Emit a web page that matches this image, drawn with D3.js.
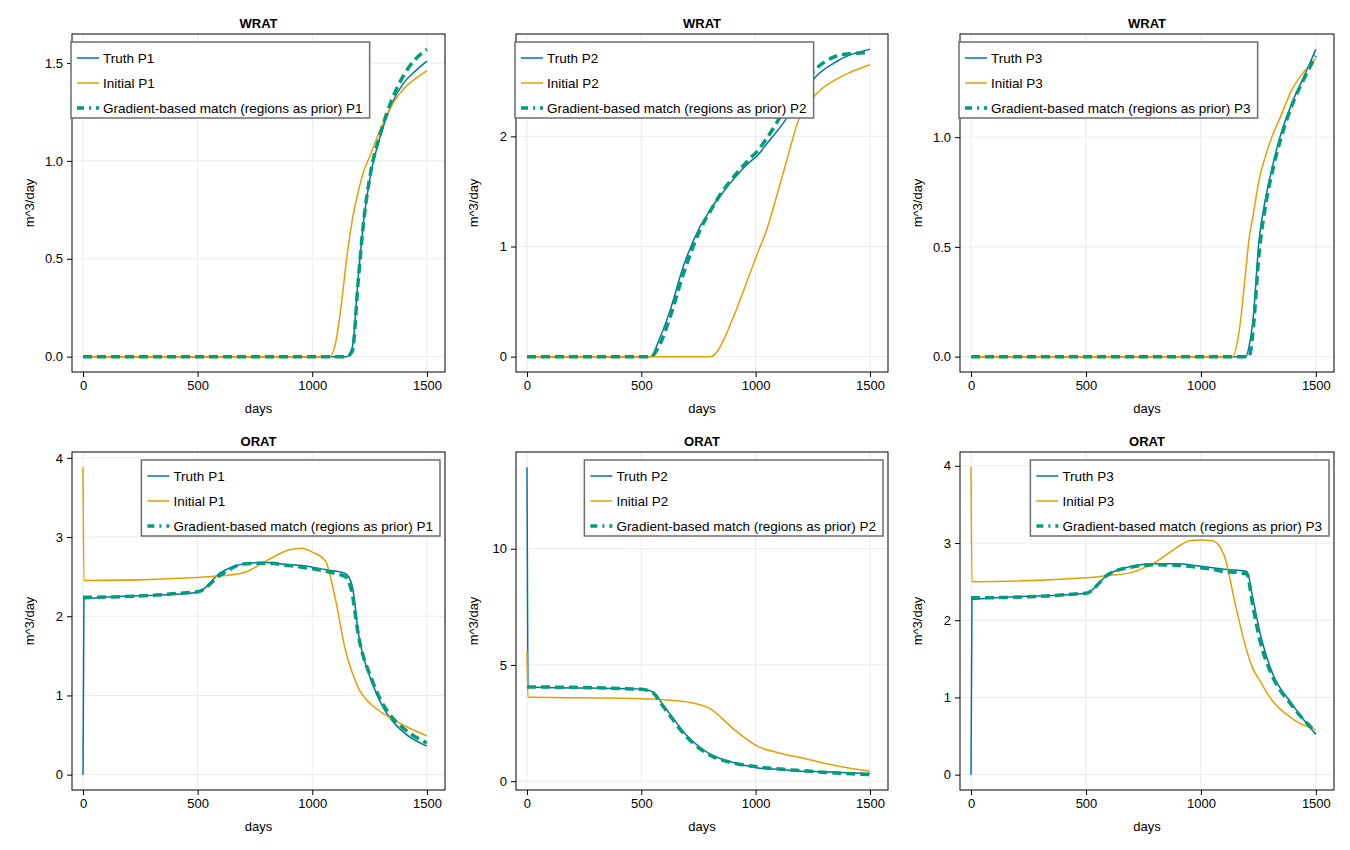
<!DOCTYPE html>
<html>
<head>
<meta charset="utf-8">
<script src="https://cdn.jsdelivr.net/npm/d3@7"></script>
<style>
  body { margin: 0; background: #fff; }
  text { font-family: "Liberation Sans", Arial, sans-serif; }
</style>
</head>
<body>
<svg id="chart" width="1350" height="850"></svg>
<script>
// ---- data ----
var wratP1Days    = [0, 1000, 1075, 1100, 1125, 1150, 1175, 1200, 1225, 1250, 1300, 1350, 1400, 1450, 1500];
var wratP1Truth   = [0, 0, 0, 0, 0, 0, 0.05, 0.40, 0.70, 0.90, 1.14, 1.30, 1.40, 1.46, 1.51];
var wratP1Initial = [0, 0, 0, 0.06, 0.25, 0.50, 0.70, 0.84, 0.95, 1.02, 1.17, 1.29, 1.37, 1.42, 1.46];
var wratP1Match   = [0, 0, 0, 0, 0, 0, 0.03, 0.38, 0.70, 0.91, 1.15, 1.32, 1.44, 1.52, 1.57];

var wratP2Days    = [0, 540, 583, 626, 684, 757, 801, 830, 845, 903, 976, 1005, 1048, 1121, 1194, 1267, 1354, 1413, 1500];
var wratP2Truth   = [0, 0, 0.18, 0.42, 0.82, 1.18, 1.33, 1.42, 1.46, 1.61, 1.77, 1.82, 1.93, 2.12, 2.35, 2.55, 2.68, 2.74, 2.79];
var wratP2Initial = [0, 0, 0, 0, 0, 0, 0, 0.04, 0.09, 0.36, 0.76, 0.92, 1.15, 1.67, 2.18, 2.39, 2.52, 2.58, 2.65];
var wratP2Match   = [0, 0, 0.12, 0.36, 0.75, 1.15, 1.32, 1.42, 1.47, 1.63, 1.80, 1.86, 1.98, 2.22, 2.45, 2.62, 2.73, 2.75, 2.76];

var wratP3Days    = [0, 1100, 1138, 1167, 1196, 1210, 1225, 1254, 1283, 1312, 1341, 1398, 1450, 1500];
var wratP3Truth   = [0, 0, 0, 0, 0, 0.05, 0.15, 0.54, 0.73, 0.87, 0.99, 1.16, 1.28, 1.40];
var wratP3Initial = [0, 0, 0, 0.12, 0.40, 0.54, 0.63, 0.81, 0.92, 1.01, 1.08, 1.22, 1.30, 1.36];
var wratP3Match   = [0, 0, 0, 0, 0, 0, 0.10, 0.48, 0.70, 0.85, 0.97, 1.15, 1.27, 1.37];

var oratP1Days    = [0, 4, 500, 600, 700, 800, 900, 955, 1000, 1057, 1100, 1144, 1173, 1202, 1260, 1300, 1333, 1400, 1500];
var oratP1Truth   = [0, 2.22, 2.30, 2.55, 2.66, 2.68, 2.65, 2.64, 2.62, 2.59, 2.57, 2.54, 2.40, 1.77, 1.17, 0.90, 0.74, 0.53, 0.36];
var oratP1Initial = [3.88, 2.45, 2.49, 2.51, 2.55, 2.70, 2.84, 2.86, 2.81, 2.70, 2.23, 1.58, 1.30, 1.09, 0.88, 0.79, 0.73, 0.62, 0.49];
var oratP1Match   = [2.24, 2.24, 2.31, 2.52, 2.66, 2.67, 2.64, 2.62, 2.60, 2.57, 2.54, 2.50, 2.30, 1.75, 1.20, 0.93, 0.78, 0.58, 0.40];

var oratP2Days    = [0, 4, 500, 550, 597, 699, 801, 903, 1005, 1107, 1200, 1300, 1400, 1500];
var oratP2Truth   = [13.5, 4.05, 3.96, 3.84, 3.26, 1.96, 1.16, 0.80, 0.58, 0.50, 0.43, 0.40, 0.36, 0.33];
var oratP2Initial = [5.6, 3.62, 3.55, 3.53, 3.50, 3.41, 3.12, 2.25, 1.52, 1.20, 1.01, 0.77, 0.58, 0.43];
var oratP2Match   = [4.05, 4.05, 3.95, 3.80, 3.20, 1.90, 1.12, 0.78, 0.62, 0.52, 0.45, 0.38, 0.33, 0.28];

var oratP3Days    = [0, 4, 500, 600, 700, 800, 900, 950, 1000, 1050, 1100, 1150, 1200, 1225, 1260, 1300, 1400, 1500];
var oratP3Truth   = [0, 2.27, 2.35, 2.60, 2.70, 2.73, 2.73, 2.72, 2.70, 2.68, 2.66, 2.65, 2.63, 2.30, 1.80, 1.40, 0.90, 0.52];
var oratP3Initial = [3.98, 2.50, 2.55, 2.58, 2.62, 2.75, 2.95, 3.03, 3.04, 3.03, 2.85, 2.20, 1.60, 1.38, 1.20, 1.00, 0.72, 0.58];
var oratP3Match   = [2.29, 2.29, 2.35, 2.60, 2.69, 2.72, 2.71, 2.70, 2.68, 2.66, 2.63, 2.62, 2.60, 2.20, 1.70, 1.35, 0.88, 0.55];

var xTicks = [0, 500, 1000, 1500];

var panels = [
  {title: "WRAT", well: "P1", days: wratP1Days, truth: wratP1Truth, initial: wratP1Initial, match: wratP1Match, yTicks: [0, 0.5, 1.0, 1.5], fmt: ".1f", legend: "left"},
  {title: "WRAT", well: "P2", days: wratP2Days, truth: wratP2Truth, initial: wratP2Initial, match: wratP2Match, yTicks: [0, 1, 2], fmt: "d", legend: "left"},
  {title: "WRAT", well: "P3", days: wratP3Days, truth: wratP3Truth, initial: wratP3Initial, match: wratP3Match, yTicks: [0, 0.5, 1.0], fmt: ".1f", legend: "left"},
  {title: "ORAT", well: "P1", days: oratP1Days, truth: oratP1Truth, initial: oratP1Initial, match: oratP1Match, yTicks: [0, 1, 2, 3, 4], fmt: "d", legend: "right"},
  {title: "ORAT", well: "P2", days: oratP2Days, truth: oratP2Truth, initial: oratP2Initial, match: oratP2Match, yTicks: [0, 5, 10], fmt: "d", legend: "right"},
  {title: "ORAT", well: "P3", days: oratP3Days, truth: oratP3Truth, initial: oratP3Initial, match: oratP3Match, yTicks: [0, 1, 2, 3, 4], fmt: "d", legend: "right"}
];

// ---- layout ----
var colX = [[72, 445], [516, 888], [960, 1334]];
var rowY = [[34, 372], [452, 790]];
var colors = {truth: "#0072b2", initial: "#e69f00", match: "#009e73"};

var svg = d3.select("#chart");

panels.forEach(function(p, i) {
  var cx = colX[i % 3], ry = rowY[Math.floor(i / 3)];
  var x = d3.scaleLinear().domain([-48, 1579]).range(cx);

  var all = p.truth.concat(p.initial, p.match);
  var lo = d3.min(all), hi = d3.max(all), pad = (hi - lo) * 0.05;
  var y = d3.scaleLinear().domain([lo - pad, hi + pad]).range([ry[1], ry[0]]);

  var g = svg.append("g");

  // grid
  g.selectAll(".gx").data(xTicks).enter().append("line")
    .attr("x1", function(d) { return x(d); }).attr("x2", function(d) { return x(d); })
    .attr("y1", ry[0]).attr("y2", ry[1]).attr("stroke", "#ebebeb");
  g.selectAll(".gy").data(p.yTicks).enter().append("line")
    .attr("y1", function(d) { return y(d); }).attr("y2", function(d) { return y(d); })
    .attr("x1", cx[0]).attr("x2", cx[1]).attr("stroke", "#ebebeb");

  // axes
  var ax = g.append("g").attr("transform", "translate(0," + ry[1] + ")")
    .call(d3.axisBottom(x).tickValues(xTicks).tickSize(5).tickPadding(4).tickFormat(d3.format("d")));
  var ay = g.append("g").attr("transform", "translate(" + cx[0] + ",0)")
    .call(d3.axisLeft(y).tickValues(p.yTicks).tickSize(5).tickPadding(4).tickFormat(d3.format(p.fmt)));
  [ax, ay].forEach(function(a) {
    a.select(".domain").remove();
    a.selectAll("text").attr("font-size", 13).attr("fill", "#000");
  });

  // lines
  var clipId = "clip" + i;
  svg.append("clipPath").attr("id", clipId).append("rect")
    .attr("x", cx[0]).attr("y", ry[0]).attr("width", cx[1] - cx[0]).attr("height", ry[1] - ry[0]);
  var line = function(vals) {
    return d3.line().curve(d3.curveMonotoneX)
      .x(function(d, k) { return x(p.days[k]); })
      .y(function(d) { return y(d); })(vals);
  };
  var lg = g.append("g").attr("clip-path", "url(#" + clipId + ")");
  lg.append("path").attr("d", line(p.truth)).attr("fill", "none").attr("stroke", colors.truth).attr("stroke-width", 1.5);
  lg.append("path").attr("d", line(p.initial)).attr("fill", "none").attr("stroke", colors.initial).attr("stroke-width", 1.5);
  lg.append("path").attr("d", line(p.match)).attr("fill", "none").attr("stroke", colors.match)
    .attr("stroke-width", 3.5).attr("stroke-dasharray", "9,5");

  // frame
  g.append("rect").attr("x", cx[0]).attr("y", ry[0]).attr("width", cx[1] - cx[0]).attr("height", ry[1] - ry[0])
    .attr("fill", "none").attr("stroke", "#000").attr("stroke-width", 1);

  // labels
  g.append("text").attr("x", (cx[0] + cx[1]) / 2).attr("y", ry[0] - 6).attr("text-anchor", "middle")
    .attr("font-size", 13).attr("font-weight", "bold").text(p.title);
  g.append("text").attr("x", (cx[0] + cx[1]) / 2).attr("y", ry[1] + 41).attr("text-anchor", "middle")
    .attr("font-size", 13).text("days");
  g.append("text").attr("transform", "translate(" + (cx[0] - 38) + "," + ((ry[0] + ry[1]) / 2) + ") rotate(-90)")
    .attr("text-anchor", "middle").attr("font-size", 13).text("m^3/day");

  // legend
  var items = [
    {label: "Truth " + p.well, c: colors.truth, w: 1.5, dash: null},
    {label: "Initial " + p.well, c: colors.initial, w: 1.5, dash: null},
    {label: "Gradient-based match (regions as prior) " + p.well, c: colors.match, w: 3.5, dash: "7,5,2,5"}
  ];
  var leg = g.append("g");
  var box = leg.append("rect").attr("fill", "#fff").attr("stroke", "#6e6e6e").attr("stroke-width", 1.5);
  var maxW = 0;
  items.forEach(function(it, k) {
    var yy = 16 + k * 25;
    leg.append("line").attr("x1", 6).attr("x2", 28).attr("y1", yy).attr("y2", yy)
      .attr("stroke", it.c).attr("stroke-width", it.w).attr("stroke-dasharray", it.dash);
    var t = leg.append("text").attr("x", 32).attr("y", yy + 5).attr("font-size", 13.5).text(it.label);
    maxW = Math.max(maxW, t.node().getComputedTextLength());
  });
  var bw = 32 + maxW + 7, bh = 76;
  box.attr("width", bw).attr("height", bh);
  var lx = p.legend === "left" ? cx[0] - 1 : cx[1] - 5 - bw;
  leg.attr("transform", "translate(" + lx + "," + (ry[0] + 8) + ")");
});
</script>
</body>
</html>
